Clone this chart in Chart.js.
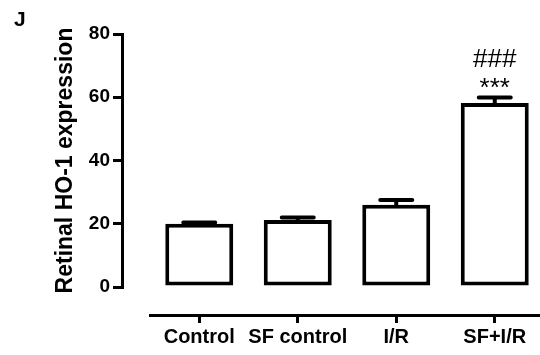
<!DOCTYPE html>
<html>
<head>
<meta charset="utf-8">
<script src="https://cdn.jsdelivr.net/npm/chart.js@4.4.1/dist/chart.umd.min.js"></script>
<style>
  html, body { margin: 0; padding: 0; background: #fff; overflow: hidden; }
  #wrap { position: relative; width: 546px; height: 355px; }
  #panel { position: absolute; left: 14px; top: 7px; font: bold 21px "Liberation Sans", Arial, sans-serif; color: #000; }
</style>
</head>
<body>
<div id="wrap">
  <canvas id="chart"></canvas>
  <div id="panel">J</div>
</div>
<script>
// values (mean and upper error)
const groups = ['Control', 'SF control', 'I/R', 'SF+I/R'];
const hoExpression = [20.0, 21.2, 26.0, 58.2];
const hoSem = [0.4, 0.8, 1.5, 1.7];
const starLabels = ['', '', '', '***'];
const hashLabels = ['', '', '', '###'];
const yTicks = [0, 20, 40, 60, 80];

const FONT = '"Liberation Sans", Arial, sans-serif';

// one-sided error bars + significance marks above them
const errorBars = {
    id: 'errorBars',
    afterDatasetsDraw(chart) {
        const ctx = chart.ctx;
        const y = chart.scales.y;
        const meta = chart.getDatasetMeta(0);
        ctx.save();
        ctx.strokeStyle = '#000';
        ctx.fillStyle = '#000';
        ctx.lineWidth = 4;
        ctx.lineCap = 'round';
        meta.data.forEach((bar, i) => {
            const top = y.getPixelForValue(hoExpression[i] + hoSem[i]);
            const x = bar.x;
            ctx.beginPath();
            ctx.moveTo(x, bar.y);
            ctx.lineTo(x, top);
            ctx.moveTo(x - 16, top);
            ctx.lineTo(x + 16, top);
            ctx.stroke();
            ctx.font = '26px ' + FONT;
            ctx.textAlign = 'center';
            ctx.textBaseline = 'alphabetic';
            if (starLabels[i]) ctx.fillText(starLabels[i], x, top - 2);
            if (hashLabels[i]) ctx.fillText(hashLabels[i], x, top - 31);
        });
        ctx.restore();
    }
};

// empty spacer axes so the drawn axes sit apart from the plot (prism style)
const spacer = (axis, position, size) => ({
    type: 'linear',
    axis: axis,
    position: position,
    weight: 0,
    display: true,
    grid: { display: false, drawTicks: false },
    border: { display: false },
    ticks: { display: false },
    afterFit(s) {
        if (axis === 'y') s.width = size; else s.height = size;
    }
});

new Chart(document.getElementById('chart'), {
    type: 'bar',
    data: {
        labels: groups,
        datasets: [{
            data: hoExpression,
            xAxisID: 'x',
            yAxisID: 'y',
            backgroundColor: '#fff',
            borderColor: '#000',
            borderWidth: 4,
            borderSkipped: false,
            categoryPercentage: 1,
            barPercentage: 0.69
        }]
    },
    options: {
        responsive: true,
        maintainAspectRatio: false,
        animation: false,
        layout: { padding: { left: 0, top: 34, right: 2, bottom: 0 } },
        plugins: {
            legend: { display: false },
            tooltip: { enabled: false }
        },
        scales: {
            x: {
                position: 'bottom',
                weight: 1,
                offset: true,
                grid: { offset: false, drawOnChartArea: false, drawTicks: true, tickLength: 8, lineWidth: 3, color: '#000' },
                border: { display: true, width: 3, color: '#000' },
                ticks: { color: '#000', padding: 2, autoSkip: false, maxRotation: 0, font: { family: FONT, size: 20, weight: 'bold' } },
                afterFit(s) { s.height = 40; }
            },
            y: {
                position: 'left',
                weight: 1,
                min: 0,
                max: 80,
                afterBuildTicks(s) { s.ticks = yTicks.map(v => ({ value: v })); },
                grid: { drawOnChartArea: false, drawTicks: true, tickLength: 9, lineWidth: 3, color: '#000' },
                border: { display: true, width: 3, color: '#000' },
                ticks: { color: '#000', padding: 3, font: { family: FONT, size: 19, weight: 'bold' } },
                title: {
                    display: true,
                    text: 'Retinal HO-1 expression',
                    color: '#000',
                    font: { family: FONT, size: 23, weight: 'bold' },
                    padding: { top: 52, bottom: 0 }
                },
                afterFit(s) { s.width = 122; }
            },
            gapY: spacer('y', 'left', 28),
            gapX: spacer('x', 'bottom', 28)
        }
    },
    plugins: [errorBars]
});
</script>
</body>
</html>
